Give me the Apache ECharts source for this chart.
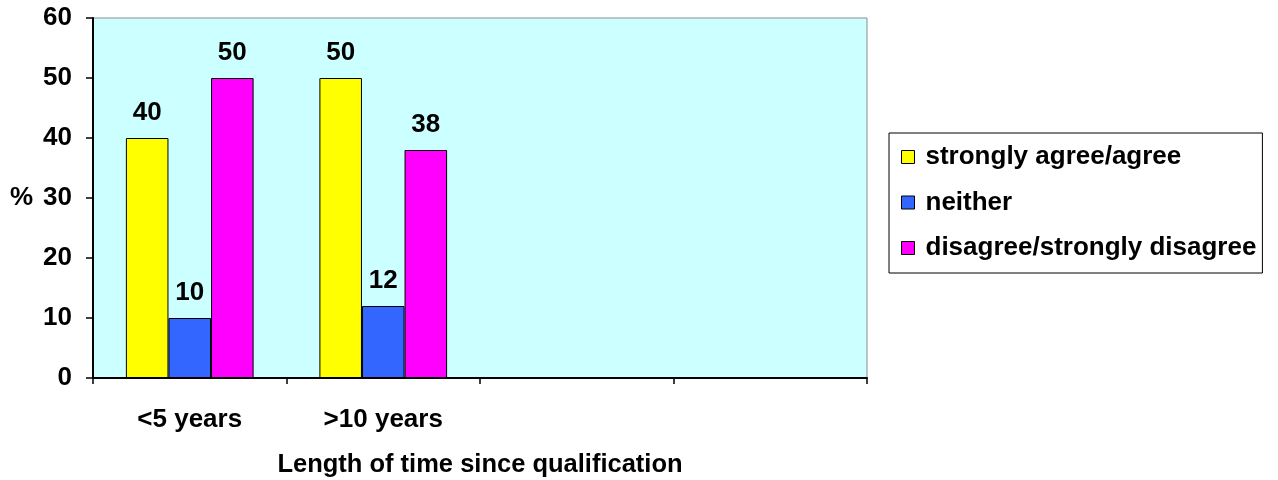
<!DOCTYPE html>
<html>
<head>
<meta charset="utf-8">
<script src="https://cdn.jsdelivr.net/npm/echarts@6/dist/echarts.min.js"></script>
<style>
html,body{margin:0;padding:0;background:#fff;}
#chart{width:1278px;height:480px;}
</style>
</head>
<body>
<div id="chart"></div>
<script>
const categories = ['<5 years', '>10 years', '', ''];
const seriesNames = ['strongly agree/agree', 'neither', 'disagree/strongly disagree'];
const agreeValues = [40, 50, null, null];
const neitherValues = [10, 12, null, null];
const disagreeValues = [50, 38, null, null];
const yTicks = { min: 0, max: 60, interval: 10 };
const xAxisTitle = 'Length of time since qualification';
const yAxisTitle = '%';

const colors = ['#FFFF00', '#3366FF', '#FF00FF'];
const FONT = '"Liberation Sans", Arial, sans-serif';
const FS = 26;

function makeSeries(name, data, color) {
  return {
    name: name,
    type: 'bar',
    data: data,
    barGap: '0%',
    barCategoryGap: '34%',
    itemStyle: { color: color, borderColor: '#000', borderWidth: 1 },
    label: {
      show: true,
      position: 'top',
      distance: 12,
      color: '#000',
      fontFamily: FONT,
      fontWeight: 'bold',
      fontSize: FS
    },
    emphasis: { disabled: true }
  };
}

const chart = echarts.init(document.getElementById('chart'), null, { renderer: 'canvas' });
chart.setOption({
  backgroundColor: '#ffffff',
  animation: false,
  grid: {
    left: 93, right: 411, top: 18, bottom: 102,
    outerBoundsMode: 'none',
    containLabel: false,
    show: true,
    backgroundColor: '#CCFFFF',
    borderColor: '#8c8c8c',
    borderWidth: 1
  },
  legend: {
    orient: 'vertical',
    left: 889,
    top: 133,
    padding: [11, 6, 12, 12],
    itemGap: 19.5,
    itemWidth: 13,
    itemHeight: 13,
    backgroundColor: '#ffffff',
    borderColor: '#000',
    borderWidth: 1,
    borderRadius: 0,
    icon: 'rect',
    itemStyle: { borderColor: '#000', borderWidth: 1 },
    textStyle: {
      color: '#000',
      fontFamily: FONT,
      fontWeight: 'bold',
      fontSize: FS,
      padding: [0, 0, 0, 6]
    },
    data: seriesNames
  },
  xAxis: {
    type: 'category',
    data: categories,
    name: xAxisTitle,
    nameLocation: 'middle',
    nameGap: 74,
    nameTextStyle: { color: '#000', fontFamily: FONT, fontWeight: 'bold', fontSize: 25.5 },
    axisLine: { show: true, lineStyle: { color: '#000', width: 2 } },
    axisTick: { show: true, length: 6, lineStyle: { color: '#000', width: 1.5 } },
    axisLabel: { interval: 0, margin: 29, color: '#000', fontFamily: FONT, fontWeight: 'bold', fontSize: FS },
    splitLine: { show: false }
  },
  yAxis: {
    type: 'value',
    min: yTicks.min,
    max: yTicks.max,
    interval: yTicks.interval,
    name: yAxisTitle,
    nameLocation: 'middle',
    nameRotate: 0,
    nameGap: 60,
    nameTextStyle: { color: '#000', fontFamily: FONT, fontWeight: 'bold', fontSize: FS },
    axisLine: { show: true, lineStyle: { color: '#000', width: 2 } },
    axisTick: { show: true, length: 7, lineStyle: { color: '#000', width: 1.5 } },
    axisLabel: { margin: 21, color: '#000', fontFamily: FONT, fontWeight: 'bold', fontSize: FS },
    splitLine: { show: false }
  },
  series: [
    makeSeries(seriesNames[0], agreeValues, colors[0]),
    makeSeries(seriesNames[1], neitherValues, colors[1]),
    makeSeries(seriesNames[2], disagreeValues, colors[2])
  ]
});
</script>
</body>
</html>
